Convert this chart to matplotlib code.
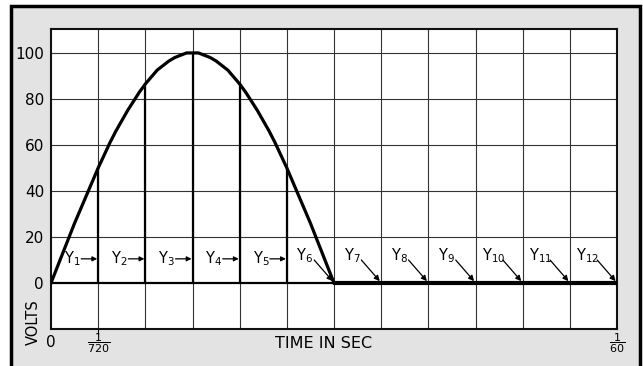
import matplotlib
matplotlib.use("Agg")
import matplotlib.pyplot as plt
from matplotlib.patches import Rectangle

# ---- data (time in units of 1/720 s, voltage in volts) ----
curve_t = [0, 0.125, 0.25, 0.375, 0.5, 0.625, 0.75, 0.875, 1,
           1.125, 1.25, 1.375, 1.5, 1.625, 1.75, 1.875, 2,
           2.125, 2.25, 2.375, 2.5, 2.625, 2.75, 2.875, 3,
           3.125, 3.25, 3.375, 3.5, 3.625, 3.75, 3.875, 4,
           4.125, 4.25, 4.375, 4.5, 4.625, 4.75, 4.875, 5,
           5.125, 5.25, 5.375, 5.5, 5.625, 5.75, 5.875, 6]
curve_v = [0, 6.5, 13, 19.5, 26, 32, 38, 44, 50,
           55.5, 61, 66, 70.5, 75, 79, 83, 86.5,
           89.5, 92.5, 94.5, 96.5, 98, 99, 100, 100,
           100, 99, 98, 96.5, 94.5, 92.5, 89.5, 86.5,
           83, 79, 75, 70.5, 66, 61, 55.5, 50,
           44, 38, 32, 26, 19.5, 13, 6.5, 0]
zero_t = [6, 12]
zero_v = [0, 0]
ordinate_t = [1, 2, 3, 4, 5]
ordinate_v = [50, 86.5, 100, 86.5, 50]
y_labels = ["Y$_1$", "Y$_2$", "Y$_3$", "Y$_4$", "Y$_5$", "Y$_6$",
            "Y$_7$", "Y$_8$", "Y$_9$", "Y$_{10}$", "Y$_{11}$", "Y$_{12}$"]
y_ticks = [0, 20, 40, 60, 80, 100]
x_tick_pos = [0, 1, 12]
x_tick_labels = ["0", r"$\dfrac{1}{720}$", r"$\dfrac{1}{60}$"]

W, H = 643, 366
fig = plt.figure(figsize=(W / 100, H / 100), dpi=100)
fig.patch.set_facecolor("white")

# scanned page frame
frame = Rectangle((11 / W, -0.05), (640 - 11) / W, 1.05 - 6 / H,
                  transform=fig.transFigure, facecolor="#e3e3e3",
                  edgecolor="black", linewidth=2.5, zorder=-10)
fig.add_artist(frame)

ax = fig.add_axes([51 / W, 37 / H, (617 - 51) / W, (329 - 29) / H])
ax.set_zorder(1)
ax.set_facecolor("white")
ax.set_xlim(0, 12)
ax.set_ylim(-20, 110.4)

# grid
for x in range(1, 12):
    ax.axvline(x, color="#333333", lw=0.8, zorder=1)
for y in y_ticks[1:]:
    ax.axhline(y, color="#333333", lw=0.8, zorder=1)
for s in ax.spines.values():
    s.set_linewidth(1.5)
    s.set_color("#111111")

# baseline and curve
ax.plot([0, 6], [0, 0], color="black", lw=1.6, zorder=3)
ax.plot(zero_t, zero_v, color="black", lw=3.0, zorder=3, solid_capstyle="butt")
ax.plot(curve_t, curve_v, color="black", lw=2.3, zorder=4)
ax.vlines(ordinate_t, 0, ordinate_v, color="black", lw=1.6, zorder=3)

# Y labels with arrows
for i, lab in enumerate(y_labels):
    k = i + 1
    if k <= 5:
        ax.annotate("", xy=(k - 0.02, 10.5), xytext=(k - 0.36, 10.5),
                    arrowprops=dict(arrowstyle="-|>", color="black", lw=0.9,
                                    mutation_scale=7, shrinkA=0, shrinkB=0),
                    zorder=5)
        ax.text(k - 0.55, 10.5, lab, ha="center", va="center", fontsize=10.5,
                zorder=5)
    else:
        ax.annotate("", xy=(k - 0.03, 0.8), xytext=(k - 0.42, 10),
                    arrowprops=dict(arrowstyle="-|>", color="black", lw=0.9,
                                    mutation_scale=8, shrinkA=0, shrinkB=0),
                    zorder=5)
        ax.text(k - 0.62, 12, lab, ha="center", va="center", fontsize=10.5,
                zorder=5)

# axes ticks
ax.set_yticks(y_ticks)
ax.set_yticklabels([str(v) for v in y_ticks], fontsize=11)
ax.tick_params(axis="y", length=0, pad=5)
ax.set_xticks([])
for pos, lab in zip(x_tick_pos, x_tick_labels):
    ax.text(pos, -26, lab, ha="center", va="center",
            fontsize=11 if pos == 0 else 8, transform=ax.transData,
            clip_on=False)
ax.plot([1, 1], [-20, -22], color="black", lw=0.8, clip_on=False)

fig.text(324 / W, 1 - 343 / H, "TIME IN SEC", ha="center", va="center",
         fontsize=11.5)
fig.text(33 / W, 1 - 322 / H, "VOLTS", ha="center", va="center",
         fontsize=10.5, rotation=90)

fig.savefig("out.png", dpi=100)
